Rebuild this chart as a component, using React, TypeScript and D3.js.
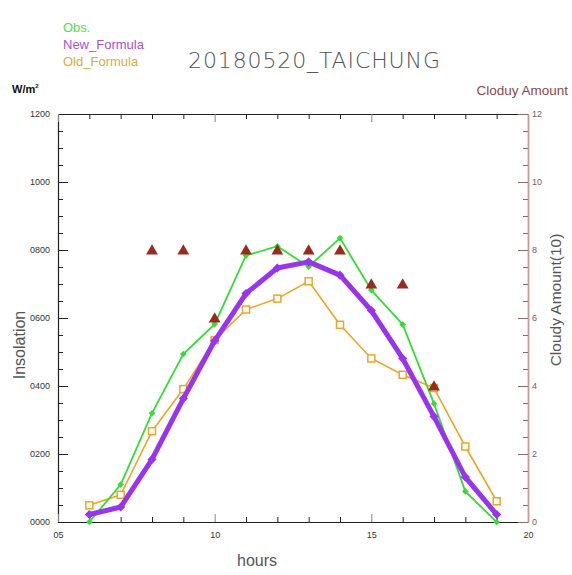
import { useEffect, useRef } from 'react';
import * as d3 from 'd3';

const hours = [6, 7, 8, 9, 10, 11, 12, 13, 14, 15, 16, 17, 18, 19];
const obsValues = [0, 110, 320, 494, 582, 784, 811, 751, 835, 682, 581, 348, 90, 0];
const newFormula = [22, 44, 184, 363, 533, 672, 747, 765, 726, 622, 481, 310, 132, 22];
const oldFormula = [49, 80, 267, 391, 535, 625, 657, 708, 580, 481, 433, 394, 222, 61];
const cloudHours = [8, 9, 10, 11, 12, 13, 14, 15, 16, 17];
const cloudAmount = [8, 8, 6, 8, 8, 8, 8, 7, 7, 4];
const xTicks = [5, 10, 15, 20];
const yTicks = [0, 200, 400, 600, 800, 1000, 1200];
const cloudTicks = [0, 2, 4, 6, 8, 10, 12];
const legendItems = ['Obs.', 'New_Formula', 'Old_Formula'];

export default function App() {
  const svgRef = useRef<SVGSVGElement>(null);

  useEffect(() => {
    if (!svgRef.current) return;
    const svg = d3.select(svgRef.current);
    svg.selectAll('*').remove();

    const left = 58, right = 528, top = 114, bottom = 522;
    const font = '"Liberation Sans", Arial, sans-serif';

    const x = d3.scaleLinear().domain([5, 20]).range([left, right]);
    const y = d3.scaleLinear().domain([0, 1200]).range([bottom, top]);
    const yR = d3.scaleLinear().domain([0, 12]).range([bottom, top]);

    // minor ticks
    const xMinor = d3.range(6, 20).filter(h => h % 5 !== 0);
    const yMinor = d3.range(50, 1200, 50).filter(v => v % 200 !== 0);
    const rMinor = d3.range(0.5, 12, 0.5).filter(v => v % 2 !== 0);

    const styleAxis = (g: any, color: string) => {
      g.selectAll('path').attr('stroke', color).attr('stroke-width', 1.2);
      g.selectAll('line').attr('stroke', color);
      g.selectAll('text').attr('fill', '#333').attr('font-size', 9).attr('font-family', font);
    };

    // left axis
    const gl = svg.append('g').attr('transform', `translate(${left},0)`)
      .call(d3.axisLeft(y).tickValues(yTicks).tickSizeInner(-10).tickSizeOuter(0).tickPadding(8).tickFormat(d3.format('04d')));
    styleAxis(gl, '#222');
    svg.append('g').attr('transform', `translate(${left},0)`)
      .call(d3.axisLeft(y).tickValues(yMinor).tickSizeInner(-5).tickSizeOuter(0).tickFormat(() => ''))
      .call(g => { g.select('path').remove(); g.selectAll('line').attr('stroke', '#222'); });

    // bottom axis
    const gb = svg.append('g').attr('transform', `translate(0,${bottom})`)
      .call(d3.axisBottom(x).tickValues(xTicks).tickSizeInner(-8).tickSizeOuter(0).tickPadding(10).tickFormat(d3.format('02d')));
    styleAxis(gb, '#222');
    gb.selectAll('line').attr('stroke', '#888');
    svg.append('g').attr('transform', `translate(0,${bottom})`)
      .call(d3.axisBottom(x).tickValues(xMinor).tickSizeInner(-5).tickSizeOuter(0).tickFormat(() => ''))
      .call(g => { g.select('path').remove(); g.selectAll('line').attr('stroke', '#222'); });

    // top axis
    const gt = svg.append('g').attr('transform', `translate(0,${top})`)
      .call(d3.axisTop(x).tickValues(xTicks).tickSizeInner(-8).tickSizeOuter(0).tickFormat(() => ''));
    styleAxis(gt, '#222');
    gt.selectAll('line').attr('stroke', '#888');
    svg.append('g').attr('transform', `translate(0,${top})`)
      .call(d3.axisTop(x).tickValues(xMinor).tickSizeInner(-5).tickSizeOuter(0).tickFormat(() => ''))
      .call(g => { g.select('path').remove(); g.selectAll('line').attr('stroke', '#222'); });

    // right axis (cloud amount)
    const brown = '#c29a9a';
    const gr = svg.append('g').attr('transform', `translate(${right},0)`)
      .call(d3.axisRight(yR).tickValues(cloudTicks).tickSizeInner(-10).tickSizeOuter(0).tickPadding(4));
    styleAxis(gr, brown);
    gr.select('path').attr('stroke-width', 1.8);
    gr.selectAll('line').attr('stroke', '#8a6a6a');
    gr.selectAll('text').attr('fill', '#7a5a5a');
    svg.append('g').attr('transform', `translate(${right},0)`)
      .call(d3.axisRight(yR).tickValues(rMinor).tickSizeInner(-5).tickSizeOuter(0).tickFormat(() => ''))
      .call(g => { g.select('path').remove(); g.selectAll('line').attr('stroke', '#8a6a6a'); });

    const line = d3.line<number>().x((_, i) => x(hours[i])).y(d => y(d));
    // diamond = square turned by 45 degrees
    const diamond = (size: number) => d3.symbol(d3.symbolSquare, size)();

    // old formula
    const orange = '#f0a424';
    svg.append('path').datum(oldFormula).attr('d', line).attr('fill', 'none')
      .attr('stroke', orange).attr('stroke-width', 1.6);
    svg.append('g').selectAll('rect').data(oldFormula).join('rect')
      .attr('x', (_, i) => x(hours[i]) - 3.5).attr('y', d => y(d) - 3.5)
      .attr('width', 7).attr('height', 7)
      .attr('fill', 'white').attr('stroke', orange).attr('stroke-width', 1.5);

    // observations
    const green = '#33dd33';
    svg.append('path').datum(obsValues).attr('d', line).attr('fill', 'none')
      .attr('stroke', green).attr('stroke-width', 1.8);
    svg.append('g').selectAll('path').data(obsValues).join('path')
      .attr('d', diamond(22))
      .attr('transform', (d, i) => `translate(${x(hours[i])},${y(d)}) rotate(45)`)
      .attr('fill', green);

    // new formula
    const purple = '#9933ee';
    svg.append('path').datum(newFormula).attr('d', line).attr('fill', 'none')
      .attr('stroke', purple).attr('stroke-width', 5).attr('stroke-linejoin', 'round');
    svg.append('g').selectAll('path').data(newFormula).join('path')
      .attr('d', diamond(42))
      .attr('transform', (d, i) => `translate(${x(hours[i])},${y(d)}) rotate(45)`)
      .attr('fill', purple);

    // cloud amount
    svg.append('g').selectAll('path').data(cloudAmount).join('path')
      .attr('d', d3.symbol(d3.symbolTriangle, 60)())
      .attr('transform', (d, i) => `translate(${x(cloudHours[i])},${yR(d) + 1})`)
      .attr('fill', '#992a22');

    // titles and labels
    svg.append('text').attr('x', 188).attr('y', 68).text('20180520_TAICHUNG')
      .attr('font-family', '"DejaVu Sans", sans-serif').attr('font-weight', 200)
      .attr('font-size', 22).attr('fill', '#555')
      .attr('textLength', 252).attr('lengthAdjust', 'spacing');

    const legendColors = ['#55dd55', '#a055dd', '#dcaa3a'];
    svg.append('g').selectAll('text').data(legendItems).join('text')
      .attr('x', 63).attr('y', (_, i) => 32 + i * 17)
      .text(d => d).attr('fill', (_, i) => legendColors[i])
      .attr('font-family', font).attr('font-size', 13);

    svg.append('text').attr('x', 12).attr('y', 93)
      .attr('font-family', font).attr('font-size', 11).attr('font-weight', 'bold').attr('fill', '#111')
      .call(t => {
        t.append('tspan').text('W/m');
        t.append('tspan').text('2').attr('font-size', 6).attr('dy', -5);
      });

    svg.append('text').attr('x', 568).attr('y', 95).attr('text-anchor', 'end')
      .text('Cloduy Amount').attr('font-family', font).attr('font-size', 13.5).attr('fill', '#8a4a4a');

    svg.append('text').attr('transform', 'translate(25,345) rotate(-90)').attr('text-anchor', 'middle')
      .text('Insolation').attr('font-family', font).attr('font-size', 16).attr('fill', '#555');

    svg.append('text').attr('transform', 'translate(561,300) rotate(-90)').attr('text-anchor', 'middle')
      .text('Cloudy Amount(10)').attr('font-family', font).attr('font-size', 15.5).attr('fill', '#555');

    svg.append('text').attr('x', 257).attr('y', 566).attr('text-anchor', 'middle')
      .text('hours').attr('font-family', font).attr('font-size', 16).attr('fill', '#555');
  }, []);

  return (
    <svg
      ref={svgRef}
      width={572}
      height={575}
      style={{ position: 'absolute', left: 0, top: 0, background: 'white' }}
    />
  );
}
